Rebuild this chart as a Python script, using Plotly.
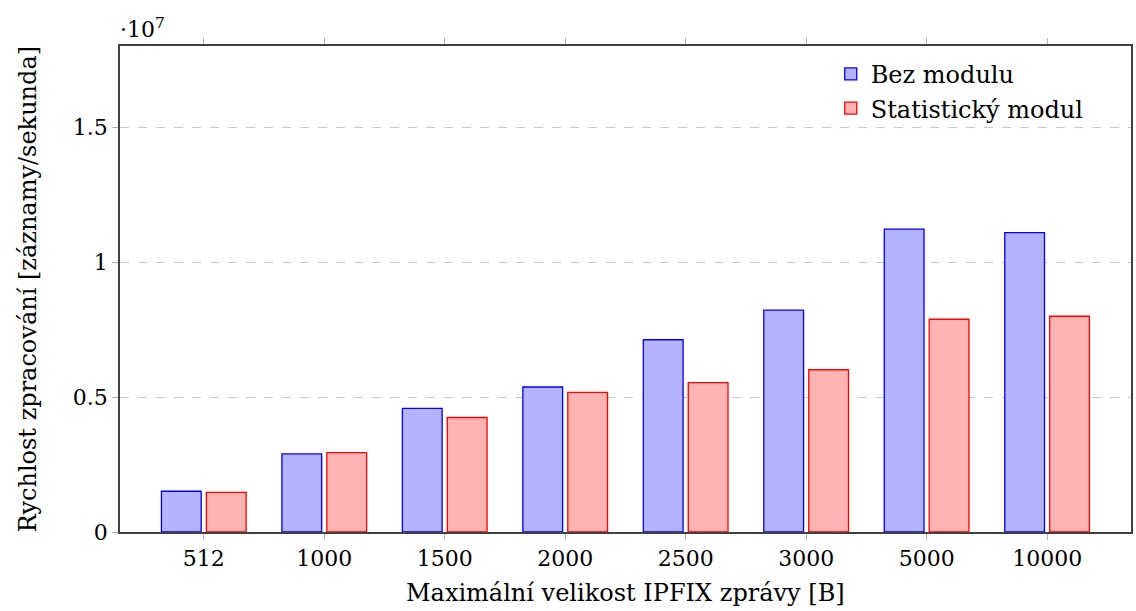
import plotly.graph_objects as go

categories = ["512", "1000", "1500", "2000", "2500", "3000", "5000", "10000"]
bez_modulu = [0.151e7, 0.289e7, 0.458e7, 0.537e7, 0.712e7, 0.822e7, 1.122e7, 1.109e7]
statisticky_modul = [0.147e7, 0.294e7, 0.424e7, 0.517e7, 0.553e7, 0.601e7, 0.788e7, 0.799e7]
y_tickvals = [0, 0.5e7, 1e7, 1.5e7]
y_ticktext = ["0", "0.5", "1", "1.5"]

FONT = "DejaVu Serif"
FS = 22
FT = 24
W, H = 1136, 611
ml, mr, mt, mb = 120, 3, 46, 79
pw, ph = W - ml - mr, H - mt - mb

fig = go.Figure()
fig.add_trace(go.Bar(
    x=categories, y=bez_modulu, name="Bez modulu",
    width=0.33, offset=-0.352,
    marker=dict(color="#b3b3ff", line=dict(color="#0000ff", width=1.3)),
))
fig.add_trace(go.Bar(
    x=categories, y=statisticky_modul, name="Statistický modul",
    width=0.33, offset=0.021,
    marker=dict(color="#ffb3b3", line=dict(color="#ff0000", width=1.3)),
))

fig.update_layout(
    width=W, height=H,
    margin=dict(l=ml, r=mr, t=mt, b=mb),
    plot_bgcolor="white", paper_bgcolor="white",
    barmode="overlay",
    font=dict(family=FONT, size=FS, color="black"),
    showlegend=True,
    legend=dict(x=0.703, y=0.988, xanchor="left", yanchor="top",
                bgcolor="rgba(255,255,255,0)", borderwidth=0,
                font=dict(family=FONT, size=FT), itemwidth=30,
                tracegroupgap=0),
    xaxis=dict(
        type="category", range=[-0.696, 7.696],
        showline=True, linecolor="#404040", linewidth=1.5, mirror="allticks",
        ticks="outside", ticklen=6, tickcolor="#b0b0b0", tickwidth=1,
        showgrid=False, zeroline=False,
        tickfont=dict(family=FONT, size=FS),
    ),
    yaxis=dict(
        range=[0, 1.8e7],
        tickvals=y_tickvals, ticktext=y_ticktext,
        showline=True, linecolor="#404040", linewidth=1.5, mirror=True,
        ticks="outside", ticklen=6, tickcolor="#b0b0b0", tickwidth=1,
        showgrid=True, gridcolor="#c8c8c8", gridwidth=1, griddash="dash",
        zeroline=False,
        tickfont=dict(family=FONT, size=FS),
    ),
    yaxis2=dict(
        range=[0, 1.8e7], overlaying="y", side="right", anchor="x",
        tickvals=y_tickvals, showticklabels=False,
        ticks="inside", ticklen=9, tickcolor="#404040", tickwidth=1.2,
        showgrid=False, zeroline=False, showline=False,
    ),
)

fig.add_annotation(
    text="Maximální velikost IPFIX zprávy [B]",
    xref="paper", yref="paper", x=0.5, y=(0 - (593 - 532)) / ph,
    xanchor="center", yanchor="middle", showarrow=False,
    font=dict(family=FONT, size=FT),
)
fig.add_annotation(
    text="Rychlost zpracování [záznamy/sekunda]",
    xref="paper", yref="paper", x=(28 - ml) / pw, y=0.5,
    xanchor="center", yanchor="middle", textangle=-90, showarrow=False,
    font=dict(family=FONT, size=FT),
)
fig.add_annotation(
    text="·10<sup>7</sup>",
    xref="paper", yref="paper", x=0, y=1, xanchor="left", yanchor="bottom",
    xshift=-2, yshift=2, showarrow=False,
    font=dict(family=FONT, size=FS),
)

fig.write_html(
    "out.html",
    config={"displayModeBar": False},
    post_script="document.body.style.margin='0';document.body.style.overflow='hidden';",
)
